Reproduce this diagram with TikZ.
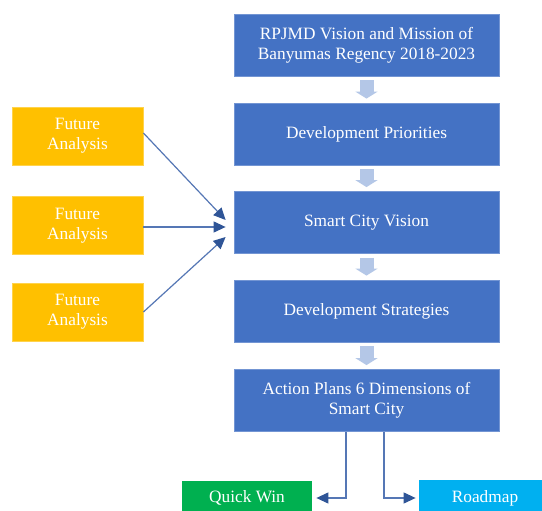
\documentclass[tikz,border=0pt]{standalone}
\usepackage{fontspec}
\setmainfont{Liberation Serif}
\usetikzlibrary{arrows.meta,calc}

\definecolor{boxblue}{HTML}{4472C4}
\definecolor{boxyellow}{HTML}{FFC000}
\definecolor{boxgreen}{HTML}{00B050}
\definecolor{boxcyan}{HTML}{00B0F0}
\definecolor{flowarrow}{HTML}{B4C7E7}
\definecolor{linkline}{HTML}{5577B5}
\definecolor{linktip}{HTML}{2F5597}

\tikzset{
  basebox/.style={rectangle, inner sep=0pt, align=center, text=white,
    font=\fontsize{17.3}{20}\selectfont, line width=0.8pt},
  stagebox/.style={basebox, fill=boxblue, draw=boxblue!75!white,
    minimum width=265pt, minimum height=62pt},
  inputbox/.style={basebox, fill=boxyellow, draw=boxyellow!70!white,
    minimum width=131pt, minimum height=58pt},
  outbox/.style={basebox, minimum height=34pt},
  flow/.style={line width=14pt, draw=flowarrow,
    -{Triangle[length=7pt,width=22pt,color=flowarrow]},
    shorten <=4pt, shorten >=4pt},
  link/.style={line width=1.2pt, draw=linkline,
    -{Triangle[length=12pt,width=11pt,color=linktip]}}
}

\begin{document}
\begin{tikzpicture}[x=1pt,y=-1pt]
\useasboundingbox (0,0) rectangle (542,511);
\clip (0,0) rectangle (542,511);
\fill[white] (0,0) rectangle (542,511);

% main column of stages
\node[stagebox] (rpjmd) at (366.5,45) {RPJMD Vision and Mission of\\Banyumas Regency 2018-2023};
\node[stagebox] (prio)  at (366.5,134) {Development Priorities};
\node[stagebox] (scv)   at (366.5,222.5) {Smart City Vision};
\node[stagebox] (strat) at (366.5,311) {Development Strategies};
\node[stagebox] (plan)  at (366.5,400.5) {Action Plans 6 Dimensions of\\Smart City};

% inputs on the left
\node[inputbox] (fa1) at (77.5,136) {Future\\Analysis};
\node[inputbox] (fa2) at (77.5,225.5) {Future\\Analysis};
\node[inputbox] (fa3) at (77.5,312) {Future\\Analysis};

% outputs at the bottom
\node[outbox, fill=boxgreen, minimum width=130pt] (qw) at (247,498) {Quick Win};
\node[outbox, fill=boxcyan, minimum width=132pt, minimum height=36pt] (rm) at (485,498) {Roadmap};

% block arrows between stages
\draw[flow] (rpjmd.south) -- (prio.north);
\draw[flow] (prio.south) -- (scv.north);
\draw[flow] (scv.south) -- (strat.north);
\draw[flow] (strat.south) -- (plan.north);

% inputs feeding the smart city vision
\draw[link] ($(fa1.east)+(0,-3)$) -- ($(scv.west)+(-8,-2.5)$);
\draw[link] ($(fa2.east)+(0,1.5)$) -- ($(scv.west)+(-8,4.5)$);
\draw[link] (fa3.east) -- ($(scv.west)+(-8,14.5)$);

% action plans split into outputs
\draw[link, shorten >=4pt] ($(plan.south)+(-20.5,0)$) |- (qw.east);
\draw[link, shorten >=3pt] ($(plan.south)+(17.5,0)$) |- (rm.west);
\end{tikzpicture}
\end{document}
